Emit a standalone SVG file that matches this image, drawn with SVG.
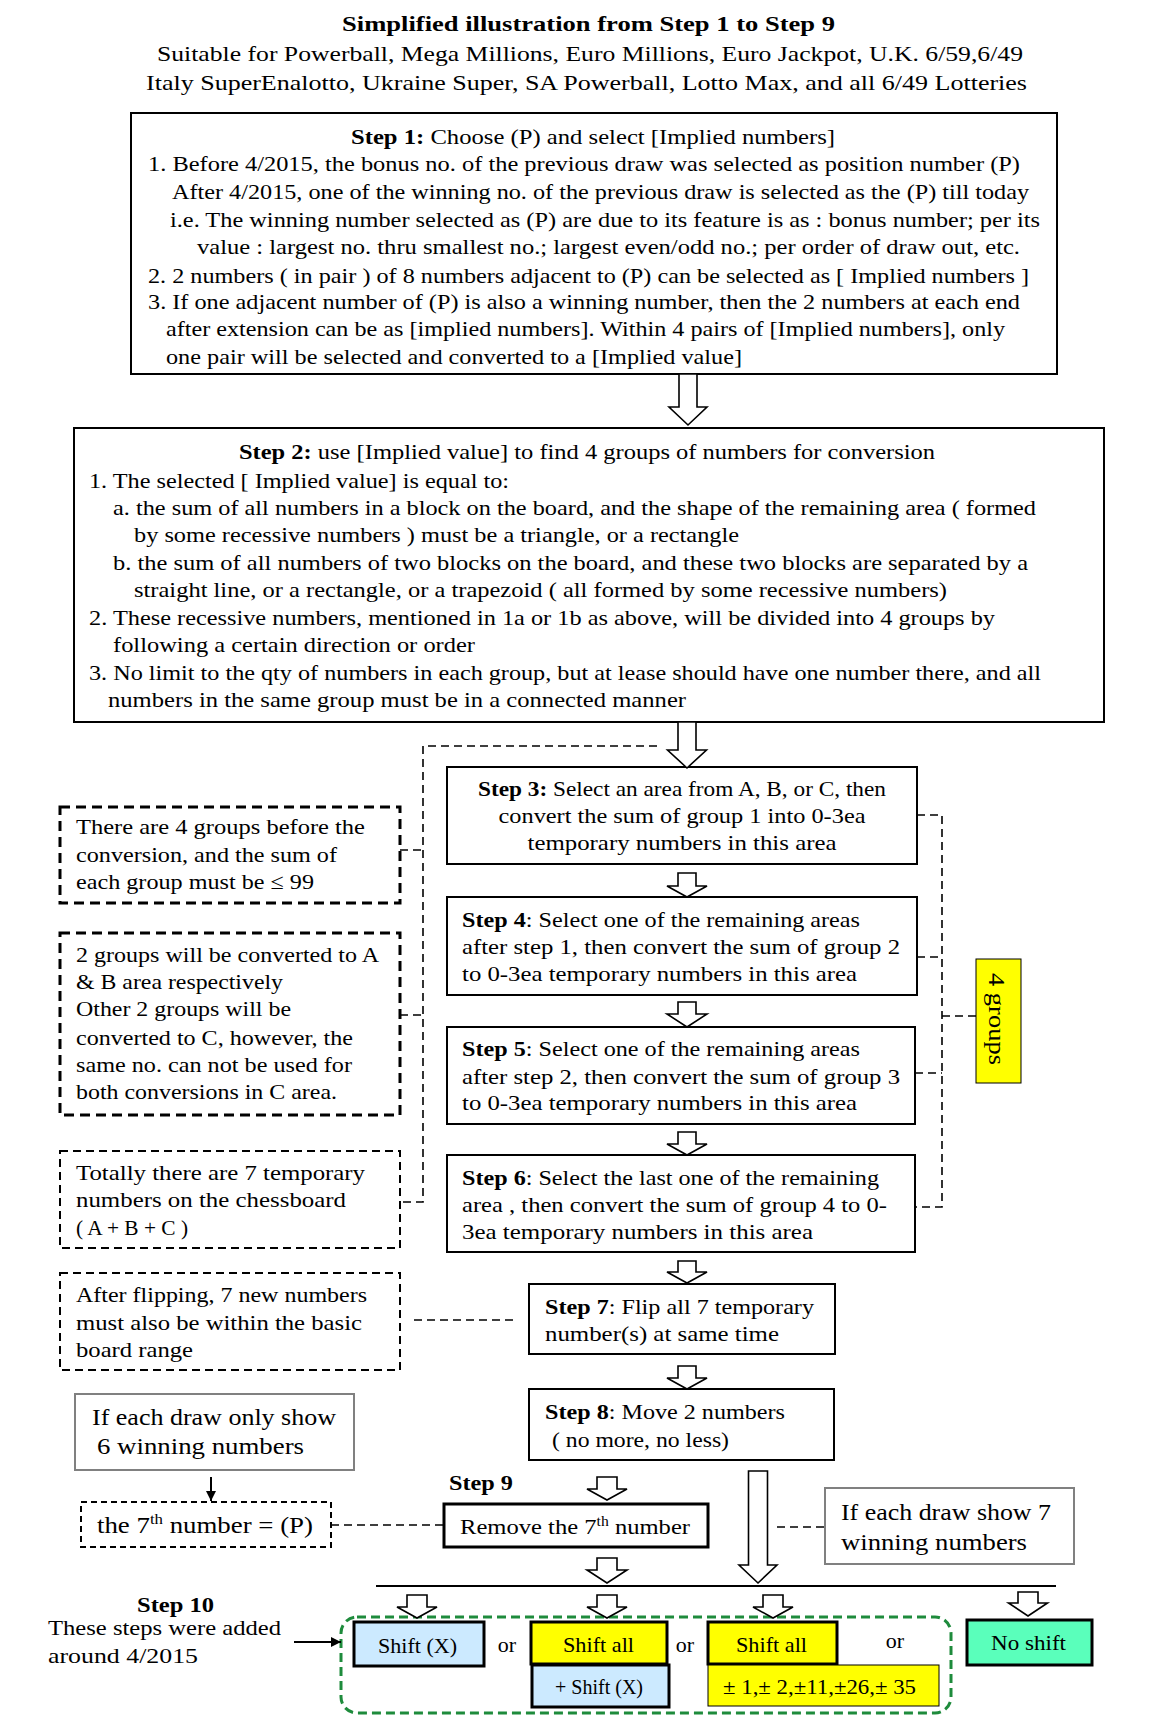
<svg xmlns="http://www.w3.org/2000/svg" width="1154" height="1715" viewBox="0 0 1154 1715">
<style>
text{font-family:"Liberation Serif","Times New Roman",serif;font-size:22px;fill:#000}
.b{font-weight:bold}
.box{fill:#fff;stroke:#000;stroke-width:2}
.thick{fill:#fff;stroke:#000;stroke-width:3}
.gray{fill:#fff;stroke:#808080;stroke-width:2}
.dbox{fill:none;stroke:#000;stroke-width:3;stroke-dasharray:10 6}
.dbox2{fill:none;stroke:#000;stroke-width:2;stroke-dasharray:8 5}
.dl{fill:none;stroke:#000;stroke-width:1.6;stroke-dasharray:8 5}
.ha{fill:#fff;stroke:#000;stroke-width:1.6;stroke-linejoin:miter}
.g24{font-size:24px}
</style>
<defs>
<marker id="ah" viewBox="0 0 10 10" refX="10" refY="5" markerWidth="10" markerHeight="10" markerUnits="userSpaceOnUse" orient="auto"><path d="M0,0 L10,5 L0,10 Z" fill="#000"/></marker>
</defs>

<g id="title">
<text class="b" x="588.5" y="31" text-anchor="middle" textLength="493" lengthAdjust="spacingAndGlyphs">Simplified illustration from Step 1 to Step 9</text>
<text x="590" y="61" text-anchor="middle" textLength="866" lengthAdjust="spacingAndGlyphs">Suitable for Powerball, Mega Millions, Euro Millions, Euro Jackpot, U.K. 6/59,6/49</text>
<text x="586.5" y="90" text-anchor="middle" textLength="881" lengthAdjust="spacingAndGlyphs">Italy SuperEnalotto,  Ukraine Super, SA Powerball, Lotto Max, and all 6/49 Lotteries</text>
</g>

<g id="step1">
<rect class="box" x="131" y="113" width="926" height="261"/>
<text x="351" y="144" textLength="484" lengthAdjust="spacingAndGlyphs"><tspan class="b">Step 1:</tspan>   Choose (P) and select [Implied numbers]</text>
<text x="148" y="171" textLength="872" lengthAdjust="spacingAndGlyphs">1. Before 4/2015, the bonus no. of the previous draw was selected as position number (P)</text>
<text x="172" y="199" textLength="857" lengthAdjust="spacingAndGlyphs">After 4/2015, one of the winning no. of the previous draw is selected as the (P) till today</text>
<text x="170" y="227" textLength="870" lengthAdjust="spacingAndGlyphs">i.e. The winning number selected as (P) are due to its feature is as : bonus number; per its</text>
<text x="197" y="254" textLength="823" lengthAdjust="spacingAndGlyphs">value : largest no. thru smallest no.; largest even/odd no.; per order of draw out, etc.</text>
<text x="148" y="283" textLength="881" lengthAdjust="spacingAndGlyphs">2. 2 numbers ( in pair ) of 8 numbers adjacent to (P) can be selected as [ Implied numbers ]</text>
<text x="148" y="309" textLength="872" lengthAdjust="spacingAndGlyphs">3. If one adjacent number of (P) is also a winning number, then the 2 numbers at each end</text>
<text x="166" y="336" textLength="839" lengthAdjust="spacingAndGlyphs">after extension can be as [implied numbers]. Within 4 pairs of [Implied numbers], only</text>
<text x="166" y="364" textLength="576" lengthAdjust="spacingAndGlyphs">one pair will be selected and converted to a [Implied value]</text>
</g>

<g id="step2">
<rect class="box" x="74" y="428" width="1030" height="294"/>
<text x="239" y="459" textLength="696" lengthAdjust="spacingAndGlyphs"><tspan class="b">Step 2:</tspan>   use [Implied value] to find 4 groups of numbers for conversion</text>
<text x="89" y="488" textLength="420" lengthAdjust="spacingAndGlyphs">1. The selected [ Implied value]  is equal to:</text>
<text x="113" y="515" textLength="923" lengthAdjust="spacingAndGlyphs">a. the sum of all numbers in a block on the board, and the shape of the remaining area ( formed</text>
<text x="134" y="542" textLength="605" lengthAdjust="spacingAndGlyphs">by some recessive numbers ) must be a triangle, or a rectangle</text>
<text x="113" y="570" textLength="915" lengthAdjust="spacingAndGlyphs">b. the sum of all numbers of  two blocks on the board, and these two blocks are separated by a</text>
<text x="134" y="597" textLength="813" lengthAdjust="spacingAndGlyphs">straight  line, or a rectangle, or a trapezoid ( all formed by some recessive numbers)</text>
<text x="89" y="625" textLength="906" lengthAdjust="spacingAndGlyphs">2. These recessive numbers, mentioned  in 1a or 1b as above, will be divided into 4 groups by</text>
<text x="113" y="652" textLength="362" lengthAdjust="spacingAndGlyphs">following a certain direction or order</text>
<text x="89" y="680" textLength="952" lengthAdjust="spacingAndGlyphs">3. No limit to the qty of numbers in each group, but at lease should have one number there, and all</text>
<text x="108" y="707" textLength="578" lengthAdjust="spacingAndGlyphs">numbers in the same group must be in a connected manner</text>
</g>

<g id="step3">
<rect class="box" x="447" y="767" width="470" height="97"/>
<text x="682" y="796" text-anchor="middle" textLength="408" lengthAdjust="spacingAndGlyphs"><tspan class="b">Step 3:</tspan> Select an area from A, B, or C, then</text>
<text x="682" y="823" text-anchor="middle" textLength="367" lengthAdjust="spacingAndGlyphs">convert the sum of group 1 into 0-3ea</text>
<text x="682" y="850" text-anchor="middle" textLength="309" lengthAdjust="spacingAndGlyphs">temporary numbers in this area</text>
</g>

<g id="step4">
<rect class="box" x="447" y="897" width="470" height="98"/>
<text x="462" y="927" textLength="398" lengthAdjust="spacingAndGlyphs"><tspan class="b">Step 4</tspan>: Select one of the remaining areas</text>
<text x="462" y="954" textLength="438" lengthAdjust="spacingAndGlyphs">after step 1, then convert the sum of  group 2</text>
<text x="462" y="981" textLength="395" lengthAdjust="spacingAndGlyphs">to 0-3ea temporary numbers in this area</text>
</g>

<g id="step5">
<rect class="box" x="447" y="1027" width="468" height="97"/>
<text x="462" y="1056" textLength="398" lengthAdjust="spacingAndGlyphs"><tspan class="b">Step 5</tspan>: Select one of the remaining areas</text>
<text x="462" y="1084" textLength="438" lengthAdjust="spacingAndGlyphs">after step 2, then convert the sum of  group 3</text>
<text x="462" y="1110" textLength="395" lengthAdjust="spacingAndGlyphs">to 0-3ea temporary numbers in this area</text>
</g>

<g id="step6">
<rect class="box" x="447" y="1155" width="468" height="97"/>
<text x="462" y="1185" textLength="417" lengthAdjust="spacingAndGlyphs"><tspan class="b">Step 6</tspan>: Select the last one of the remaining</text>
<text x="462" y="1212" textLength="425" lengthAdjust="spacingAndGlyphs">area , then convert the sum of  group 4 to 0-</text>
<text x="462" y="1239" textLength="351" lengthAdjust="spacingAndGlyphs">3ea temporary numbers in this area</text>
</g>

<g id="step7">
<rect class="box" x="529" y="1284" width="306" height="70"/>
<text x="545" y="1314" textLength="269" lengthAdjust="spacingAndGlyphs"><tspan class="b">Step 7</tspan>: Flip all 7 temporary</text>
<text x="545" y="1341" textLength="234" lengthAdjust="spacingAndGlyphs">number(s) at same time</text>
</g>

<g id="step8">
<rect class="box" x="529" y="1389" width="305" height="71"/>
<text x="545" y="1419" textLength="240" lengthAdjust="spacingAndGlyphs"><tspan class="b">Step 8</tspan>: Move 2 numbers</text>
<text x="552" y="1447" textLength="177" lengthAdjust="spacingAndGlyphs">( no more, no less)</text>
</g>

<g id="note1">
<rect class="dbox" x="60" y="807" width="340" height="96"/>
<text x="76" y="834" textLength="289" lengthAdjust="spacingAndGlyphs">There are 4 groups before the</text>
<text x="76" y="862" textLength="261" lengthAdjust="spacingAndGlyphs">conversion, and the sum of</text>
<text x="76" y="889" textLength="238" lengthAdjust="spacingAndGlyphs">each group must be ≤ 99</text>
</g>

<g id="note2">
<rect class="dbox" x="60" y="933" width="340" height="182"/>
<text x="76" y="962" textLength="303" lengthAdjust="spacingAndGlyphs">2 groups will be converted to A</text>
<text x="76" y="989" textLength="207" lengthAdjust="spacingAndGlyphs">&amp; B area respectively</text>
<text x="76" y="1016" textLength="215" lengthAdjust="spacingAndGlyphs">Other 2 groups will be</text>
<text x="76" y="1045" textLength="277" lengthAdjust="spacingAndGlyphs">converted to C, however, the</text>
<text x="76" y="1072" textLength="276" lengthAdjust="spacingAndGlyphs">same no. can not be used for</text>
<text x="76" y="1099" textLength="261" lengthAdjust="spacingAndGlyphs">both conversions in C area.</text>
</g>

<g id="note3">
<rect class="dbox2" x="60" y="1151" width="340" height="97"/>
<text x="76" y="1180" textLength="289" lengthAdjust="spacingAndGlyphs">Totally there are 7 temporary</text>
<text x="76" y="1207" textLength="270" lengthAdjust="spacingAndGlyphs">numbers on the chessboard</text>
<text x="76" y="1235" textLength="112" lengthAdjust="spacingAndGlyphs">( A + B + C )</text>
</g>

<g id="note4">
<rect class="dbox2" x="60" y="1273" width="340" height="97"/>
<text x="76" y="1302" textLength="291" lengthAdjust="spacingAndGlyphs">After flipping, 7 new numbers</text>
<text x="76" y="1330" textLength="286" lengthAdjust="spacingAndGlyphs">must  also be within the basic</text>
<text x="76" y="1357" textLength="117" lengthAdjust="spacingAndGlyphs">board range</text>
</g>

<g id="groups4">
<rect x="976" y="959" width="45" height="124" fill="#ffff00" stroke="#000" stroke-width="1"/>
<text transform="translate(989,1019) rotate(90)" text-anchor="middle" textLength="92" lengthAdjust="spacingAndGlyphs" style="font-size:23px">4 groups</text>
</g>

<g id="show6">
<rect class="gray" x="75" y="1394" width="279" height="76"/>
<text class="g24" x="92" y="1425" textLength="244" lengthAdjust="spacingAndGlyphs">If each draw only show</text>
<text class="g24" x="97" y="1454" textLength="207" lengthAdjust="spacingAndGlyphs">6 winning numbers</text>
</g>

<g id="seventh">
<rect class="dbox2" x="81" y="1502" width="250" height="45" style="stroke-dasharray:6 4"/>
<text x="97" y="1533" style="font-size:24px" textLength="216" lengthAdjust="spacingAndGlyphs">the 7<tspan dy="-9" style="font-size:15px">th</tspan><tspan dy="9"> number = (P)</tspan></text>
</g>

<g id="step9">
<text class="b" x="449" y="1490" textLength="64" lengthAdjust="spacingAndGlyphs">Step 9</text>
<rect class="thick" x="444" y="1504" width="264" height="43"/>
<text x="460" y="1534" textLength="230" lengthAdjust="spacingAndGlyphs">Remove the 7<tspan dy="-8" style="font-size:14px">th</tspan><tspan dy="8"> number</tspan></text>
</g>

<g id="show7">
<rect class="gray" x="825" y="1488" width="249" height="76"/>
<text class="g24" x="841" y="1520" textLength="210" lengthAdjust="spacingAndGlyphs">If each draw show 7</text>
<text class="g24" x="841" y="1550" textLength="186" lengthAdjust="spacingAndGlyphs">winning numbers</text>
</g>

<g id="step10">
<text class="b" x="175.5" y="1612" text-anchor="middle" textLength="77" lengthAdjust="spacingAndGlyphs">Step 10</text>
<text x="48" y="1635" textLength="233" lengthAdjust="spacingAndGlyphs">These steps were added</text>
<text x="48" y="1663" textLength="150" lengthAdjust="spacingAndGlyphs">around 4/2015</text>
</g>

<g id="options">
<rect x="341" y="1617" width="610" height="96" rx="16" fill="none" stroke="#1e8b3c" stroke-width="3" stroke-dasharray="9 5"/>
<rect x="354" y="1622" width="130" height="44" fill="#cceaff" stroke="#000" stroke-width="3"/>
<text x="417.5" y="1653" text-anchor="middle" textLength="79" lengthAdjust="spacingAndGlyphs">Shift (X)</text>
<text x="507" y="1652" text-anchor="middle">or</text>
<rect x="531" y="1622" width="136" height="42" fill="#ffff00" stroke="#000" stroke-width="3"/>
<text x="598.5" y="1652" text-anchor="middle" textLength="71" lengthAdjust="spacingAndGlyphs">Shift all</text>
<rect x="532" y="1665" width="137" height="42" fill="#cceaff" stroke="#000" stroke-width="3"/>
<text x="599" y="1694" text-anchor="middle" textLength="88" lengthAdjust="spacingAndGlyphs">+ Shift (X)</text>
<text x="685" y="1652" text-anchor="middle">or</text>
<rect x="708" y="1622" width="129" height="42" fill="#ffff00" stroke="#000" stroke-width="3"/>
<text x="771.5" y="1652" text-anchor="middle" textLength="71" lengthAdjust="spacingAndGlyphs">Shift all</text>
<rect x="708" y="1665" width="231" height="41" fill="#ffff00" stroke="#000" stroke-width="1"/>
<text x="819.5" y="1694" text-anchor="middle" textLength="193" lengthAdjust="spacingAndGlyphs">± 1,± 2,±11,±26,± 35</text>
<text x="895" y="1648" text-anchor="middle">or</text>
<rect x="967" y="1620" width="125" height="45" fill="#5affbb" stroke="#000" stroke-width="3"/>
<text x="1028.5" y="1650" text-anchor="middle" textLength="75" lengthAdjust="spacingAndGlyphs">No shift</text>
</g>

<g id="connectors">
<path class="ha" d="M679,374 L697,374 L697,407 L707,407 L688,425 L669,407 L679,407 Z"/>
<path class="ha" d="M678,722 L696,722 L696,750 L706.5,750 L687,768 L667.5,750 L678,750 Z"/>
<path class="ha" d="M678,873 L696,873 L696,886 L707,886 L687,897 L667,886 L678,886 Z"/>
<path class="ha" d="M678,1002 L696,1002 L696,1014 L707,1014 L687,1027 L667,1014 L678,1014 Z"/>
<path class="ha" d="M678,1132 L696,1132 L696,1144 L707,1144 L687,1155 L667,1144 L678,1144 Z"/>
<path class="ha" d="M678,1261 L696,1261 L696,1272 L707,1272 L687,1283 L667,1272 L678,1272 Z"/>
<path class="ha" d="M678,1366 L696,1366 L696,1378 L707,1378 L687,1389 L667,1378 L678,1378 Z"/>
<path class="ha" d="M597,1477 L617,1477 L617,1489 L627,1489 L607,1500 L587,1489 L597,1489 Z"/>
<path class="ha" d="M597,1558 L617,1558 L617,1570 L627,1570 L607,1583 L587,1570 L597,1570 Z"/>
<path class="ha" d="M748.5,1471 L767.5,1471 L767.5,1565 L777,1565 L758,1583 L739,1565 L748.5,1565 Z"/>
<path class="ha" d="M407,1595 L427,1595 L427,1607 L437,1607 L417,1618 L397,1607 L407,1607 Z"/>
<path class="ha" d="M597,1595 L617,1595 L617,1607 L627,1607 L607,1618 L587,1607 L597,1607 Z"/>
<path class="ha" d="M763,1595 L783,1595 L783,1607 L793,1607 L773,1618 L753,1607 L763,1607 Z"/>
<path class="ha" d="M1018,1592 L1038,1592 L1038,1603 L1047.5,1603 L1028,1616 L1008.5,1603 L1018,1603 Z"/>
<polyline class="dl" points="657,746 423,746 423,1202 400,1202"/>
<line class="dl" x1="400" y1="850" x2="423" y2="850"/>
<line class="dl" x1="400" y1="1015" x2="423" y2="1015"/>
<polyline class="dl" points="917,815 942,815 942,1207 915,1207"/>
<line class="dl" x1="917" y1="957" x2="942" y2="957"/>
<line class="dl" x1="915" y1="1073" x2="942" y2="1073"/>
<line class="dl" x1="942" y1="1016" x2="976" y2="1016"/>
<line class="dl" x1="414" y1="1320" x2="517" y2="1320"/>
<line class="dl" x1="331" y1="1525" x2="444" y2="1525"/>
<line class="dl" x1="777" y1="1527" x2="825" y2="1527"/>
<line x1="376" y1="1586" x2="1056" y2="1586" stroke="#000" stroke-width="2"/>
<line x1="211" y1="1477" x2="211" y2="1501" stroke="#000" stroke-width="2" marker-end="url(#ah)"/>
<line x1="294" y1="1642" x2="341" y2="1642" stroke="#000" stroke-width="2" marker-end="url(#ah)"/>
</g>
</svg>
